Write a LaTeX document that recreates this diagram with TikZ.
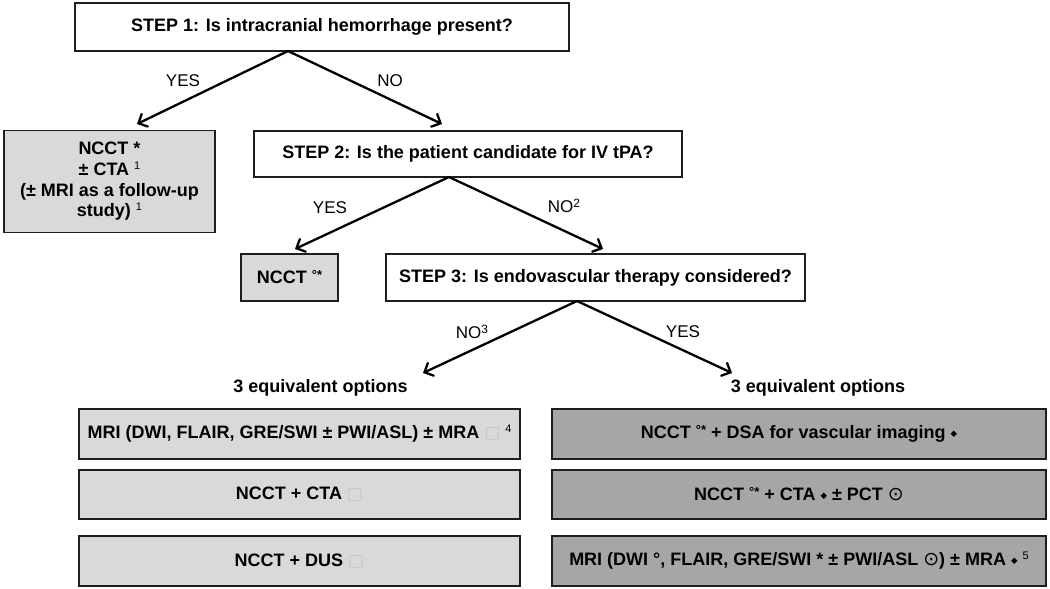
\documentclass[tikz,border=0pt]{standalone}
\usepackage{fontspec}
\setmainfont{Liberation Sans}
\newfontfamily\dejavu{DejaVu Sans}
\usetikzlibrary{arrows.meta}
\definecolor{lgray}{HTML}{D9D9D9}
\definecolor{dgray}{HTML}{A6A6A6}
\definecolor{edge}{HTML}{1E1E1E}
\newcommand{\sps}[1]{\raisebox{6pt}{\fontsize{11}{11}\selectfont\mdseries #1}}
\newcommand{\degst}{\raisebox{4pt}{\fontsize{13}{13}\selectfont\bfseries °*}}
\newcommand{\tofu}{{\dejavu\mdseries\fontsize{17}{17}\selectfont\color{gray!45}□}}
\newcommand{\dia}{\raisebox{2.5pt}{\dejavu\fontsize{8.5}{8.5}\selectfont ◆}}
\newcommand{\cdotsym}{{\dejavu\mdseries\fontsize{19}{19}\selectfont ⊙}}
\tikzset{
  box/.style={draw=edge, line width=1.6pt, inner sep=0pt, align=center,
    font=\fontsize{18}{20.7}\selectfont\bfseries, text=black},
  stepbox/.style={box, fill=white},
  lbox/.style={box, fill=lgray},
  dbox/.style={box, fill=dgray},
  conn/.style={line width=2.3pt, draw=black, line cap=round,
    -{Straight Barb[length=7pt,width=14pt,line cap=round]}},
  lab/.style={font=\fontsize{17}{17}\selectfont, text=black, inner sep=0pt},
  optlab/.style={font=\fontsize{18}{18}\selectfont\bfseries, text=black, inner sep=0pt}
}
\begin{document}
\begin{tikzpicture}[x=1pt,y=-1pt]
\path[use as bounding box, fill=white] (0,0) rectangle (1050,589);

% step boxes
\node[stepbox, minimum width=494pt, minimum height=48pt] (step1) at (322,27)
  {STEP 1: Is intracranial hemorrhage present?};
\node[lbox, minimum width=211pt, minimum height=102pt] (ncct1) at (109.5,181.5)
  {NCCT *\\ ± CTA \sps{1}\\ (± MRI as a follow-up\\ study) \sps{1}};
\node[stepbox, minimum width=428pt, minimum height=46pt] (step2) at (468,154)
  {STEP 2: Is the patient candidate for IV tPA?};
\node[lbox, minimum width=97pt, minimum height=47pt] (ncct2) at (289.5,277.5)
  {NCCT \degst};
\node[stepbox, minimum width=419pt, minimum height=47pt] (step3) at (595.5,277.5)
  {STEP 3: Is endovascular therapy considered?};

% option labels
\node[optlab] (optL) at (320.5,388) {3 equivalent options};
\node[optlab] (optR) at (818,388) {3 equivalent options};

% left options
\node[lbox, minimum width=441pt, minimum height=50pt] (l1) at (299.5,434)
  {MRI (DWI, FLAIR, GRE/SWI ± PWI/ASL) ± MRA \tofu\ \sps{4}};
\node[lbox, minimum width=441pt, minimum height=49pt] (l2) at (299.5,494.5)
  {NCCT + CTA \tofu};
\node[lbox, minimum width=441pt, minimum height=50pt] (l3) at (299.5,561)
  {NCCT + DUS \tofu};

% right options
\node[dbox, minimum width=494pt, minimum height=50pt] (r1) at (799,434)
  {NCCT \degst\ + DSA for vascular imaging \dia};
\node[dbox, minimum width=494pt, minimum height=49pt] (r2) at (799,494.5)
  {NCCT \degst\ + CTA \dia\ ± PCT \cdotsym};
\node[dbox, minimum width=494pt, minimum height=50pt] (r3) at (799,561)
  {MRI (DWI °, FLAIR, GRE/SWI * ± PWI/ASL \cdotsym) ± MRA \dia\ \sps{5}};

% branch points and arrow ends
\coordinate (b1) at (288,51);
\coordinate (e1y) at (137,124);
\coordinate (e1n) at (442,124);
\coordinate (b2) at (449,177);
\coordinate (e2y) at (295,249);
\coordinate (e2n) at (603,249);
\coordinate (b3) at (577,301);
\coordinate (e3n) at (423,373);
\coordinate (e3y) at (732,373);

\draw[conn] (b1) -- (e1y);
\draw[conn] (b1) -- (e1n);
\draw[conn] (b2) -- (e2y);
\draw[conn] (b2) -- (e2n);
\draw[conn] (b3) -- (e3n);
\draw[conn] (b3) -- (e3y);

% connector labels
\node[lab] (y1) at (183,81) {YES};
\node[lab] (n1) at (390,81) {NO};
\node[lab] (y2) at (330,208) {YES};
\node[lab] (n2) at (564,206) {NO\raisebox{5pt}{\fontsize{12}{12}\selectfont 2}};
\node[lab] (n3) at (472,332) {NO\raisebox{5pt}{\fontsize{12}{12}\selectfont 3}};
\node[lab] (y3) at (683,332) {YES};
\end{tikzpicture}
\end{document}
